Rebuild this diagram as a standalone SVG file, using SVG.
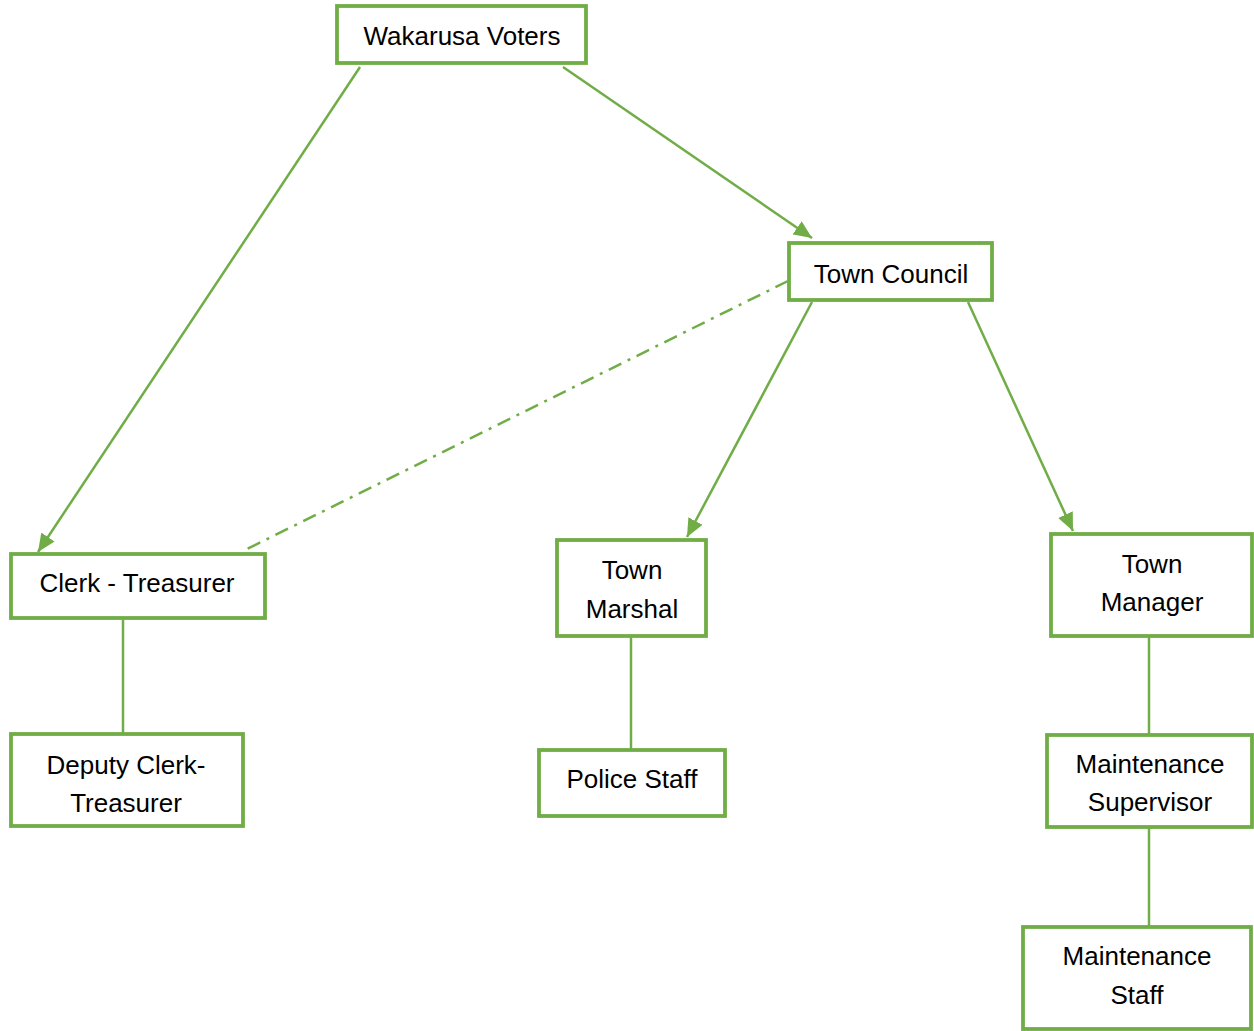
<svg xmlns="http://www.w3.org/2000/svg" width="1254" height="1031" viewBox="0 0 1254 1031">
<style>
.box{fill:#fff;stroke:#70AD47;stroke-width:3.8}
.lbl{font-family:"Liberation Sans",Arial,sans-serif;font-size:26px;fill:#000;text-anchor:middle}
.ln{stroke:#70AD47;stroke-width:2.5;fill:none}
.dd{stroke-dasharray:14 7 3 7}
</style>
<defs>
<marker id="ah" markerUnits="userSpaceOnUse" markerWidth="20" markerHeight="16" refX="18" refY="8" orient="auto">
<path d="M0,0 L18,8 L0,16 Z" fill="#70AD47"/>
</marker>
</defs>
<g id="connectors">
<line class="ln" x1="360" y1="67" x2="38" y2="552" marker-end="url(#ah)"/>
<line class="ln" x1="563" y1="67" x2="812" y2="238" marker-end="url(#ah)"/>
<line class="ln" x1="812" y1="302" x2="687" y2="537" marker-end="url(#ah)"/>
<line class="ln" x1="968" y1="302" x2="1073" y2="531" marker-end="url(#ah)"/>
<line class="ln dd" x1="788" y1="281" x2="245" y2="550"/>
<line class="ln" x1="123" y1="620" x2="123" y2="733"/>
<line class="ln" x1="631" y1="637" x2="631" y2="749"/>
<line class="ln" x1="1149" y1="637" x2="1149" y2="734"/>
<line class="ln" x1="1149" y1="828" x2="1149" y2="926"/>
</g>
<g id="voters"><rect class="box" x="337" y="6" width="249" height="57"/><text class="lbl" x="462" y="45">Wakarusa Voters</text></g>
<g id="council"><rect class="box" x="789" y="243" width="203" height="57"/><text class="lbl" x="891" y="283">Town Council</text></g>
<g id="clerk"><rect class="box" x="11" y="554" width="254" height="64"/><text class="lbl" x="137" y="592">Clerk - Treasurer</text></g>
<g id="marshal"><rect class="box" x="557" y="540" width="149" height="96"/><text class="lbl" x="632" y="579">Town</text><text class="lbl" x="632" y="618">Marshal</text></g>
<g id="manager"><rect class="box" x="1051" y="534" width="201" height="102"/><text class="lbl" x="1152" y="573">Town</text><text class="lbl" x="1152" y="611">Manager</text></g>
<g id="deputy"><rect class="box" x="11" y="734" width="232" height="92"/><text class="lbl" x="126" y="774">Deputy Clerk-</text><text class="lbl" x="126" y="812">Treasurer</text></g>
<g id="police"><rect class="box" x="539" y="750" width="186" height="66"/><text class="lbl" x="632" y="788">Police Staff</text></g>
<g id="supervisor"><rect class="box" x="1047" y="735" width="205" height="92"/><text class="lbl" x="1150" y="773">Maintenance</text><text class="lbl" x="1150" y="811">Supervisor</text></g>
<g id="staff"><rect class="box" x="1023" y="927" width="228" height="102"/><text class="lbl" x="1137" y="965">Maintenance</text><text class="lbl" x="1137" y="1004">Staff</text></g>
</svg>
